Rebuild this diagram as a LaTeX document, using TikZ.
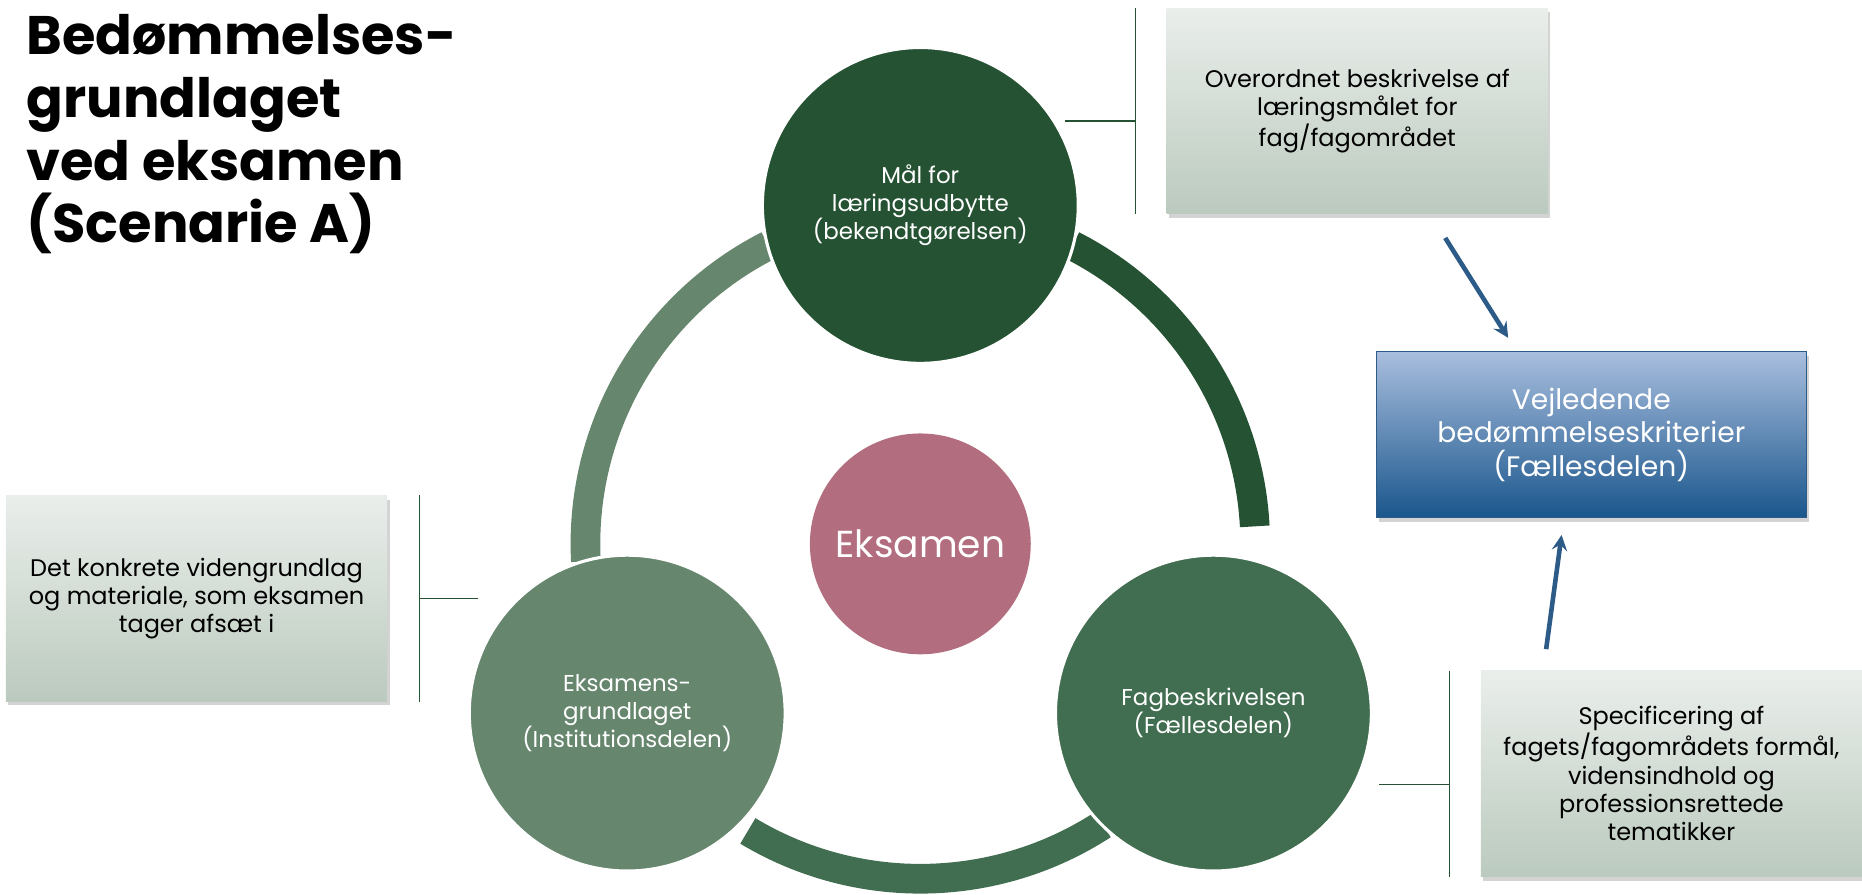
\documentclass[tikz,border=0pt]{standalone}
\usepackage{fontspec}
\setmainfont{Poppins}
\usetikzlibrary{calc,arrows,positioning,shadows}

\definecolor{darkgreen}{HTML}{255232}
\definecolor{midgreen}{HTML}{416E50}
\definecolor{lightgreen}{HTML}{66866E}
\definecolor{rosa}{HTML}{B26D7E}
\definecolor{boxtop}{HTML}{EAEEEB}
\definecolor{boxbottom}{HTML}{BBCABE}
\definecolor{bluetop}{HTML}{A9BEDE}
\definecolor{bluebottom}{HTML}{1A568C}
\definecolor{blueline}{HTML}{2C5B87}

\begin{document}
\begin{tikzpicture}
	\tikzstyle{stage} = [circle, minimum size=5.32cm, draw=white, line width=1.5pt, text=white, align=center, font=\fontsize{11}{13.5}\selectfont]
	\tikzstyle{note} = [rectangle, minimum width=6.42cm, minimum height=3.46cm, top color=boxtop, bottom color=boxbottom, align=center, font=\fontsize{11.5}{13.6}\selectfont, drop shadow={shadow xshift=0.04cm, shadow yshift=-0.07cm, opacity=0.35}]
	\tikzstyle{ringarc} = [line width=0.5cm]
	\tikzstyle{bracket} = [draw=darkgreen, line width=0.8pt]
	\useasboundingbox (0,0) rectangle (31.36,15.06);

	% title
	\node[anchor=north west, align=left, inner sep=0, font=\fontsize{26}{30}\selectfont\bfseries] (title) at (0.44,14.82) {Bedømmelses-\\grundlaget\\ved eksamen\\(Scenarie A)};

	% ring
	\coordinate (C) at (15.5,5.9);
	\draw[ringarc, draw=lightgreen] ($(C)+(183:5.64)$) arc[start angle=183, end angle=117, radius=5.64];
	\draw[ringarc, draw=darkgreen] ($(C)+(63:5.64)$) arc[start angle=63, end angle=3, radius=5.64];
	\draw[ringarc, draw=midgreen] ($(C)+(-57:5.64)$) arc[start angle=-57, end angle=-121, radius=5.64];

	\node[stage, fill=darkgreen] (maal) at ($(C)+(90:5.7)$) {Mål for\\læringsudbytte\\(bekendtgørelsen)};
	\node[stage, fill=midgreen] (fag) at ($(C)+(-30:5.7)$) {Fagbeskrivelsen\\(Fællesdelen)};
	\node[stage, fill=lightgreen] (grund) at ($(C)+(210:5.7)$) {Eksamens-\\grundlaget\\(Institutionsdelen)};
	\node[circle, minimum size=3.72cm, fill=rosa, text=white, font=\fontsize{18}{22}\selectfont] (eksamen) at (C) {Eksamen};

	% notes
	\node[note] (overbox) at (22.86,13.19) {Overordnet beskrivelse af\\læringsmålet for\\fag/fagområdet};
	\node[note] (videnbox) at (3.31,4.98) {Det konkrete videngrundlag\\og materiale, som eksamen\\tager afsæt i};
	\node[note] (specbox) at (28.15,2.03) {Specificering af\\fagets/fagområdets formål,\\vidensindhold og\\professionsrettede\\tematikker};
	\node[rectangle, minimum width=7.24cm, minimum height=2.8cm, top color=bluetop, bottom color=bluebottom, draw=blueline, line width=0.6pt, text=white, align=center, font=\fontsize{13.5}{16}\selectfont, drop shadow={shadow xshift=0.04cm, shadow yshift=-0.07cm, opacity=0.35}] (krit) at (26.8,7.74) {Vejledende\\bedømmelseskriterier\\(Fællesdelen)};

	% brackets
	\coordinate[left=0.52cm of overbox.north west] (overA);
	\coordinate[left=0.52cm of overbox.south west] (overB);
	\coordinate[below left=0.17cm and 1.7cm of overbox.west] (overC);
	\draw[bracket] (overA) -- (overB);
	\draw[bracket] (overC) -- (overC -| overA);

	\coordinate[right=0.54cm of videnbox.north east] (videnA);
	\coordinate[right=0.54cm of videnbox.south east] (videnB);
	\coordinate[right=1.52cm of videnbox.east] (videnC);
	\draw[bracket] (videnA) -- (videnB);
	\draw[bracket] (videnC) -- (videnC -| videnA);

	\coordinate[left=0.52cm of specbox.north west] (specA);
	\coordinate[left=0.52cm of specbox.south west] (specB);
	\coordinate[below left=0.18cm and 1.7cm of specbox.west] (specC);
	\draw[bracket] (specA) -- (specB);
	\draw[bracket] (specC) -- (specC -| specA);

	% arrows
	\draw[->,>=stealth,line width=2.2pt,draw=blueline] ([xshift=1.48cm,yshift=-0.4cm]overbox.south) -- ([xshift=-1.4cm,yshift=0.22cm]krit.north);
	\draw[->,>=stealth,line width=2.2pt,draw=blueline] ([xshift=-2.11cm,yshift=0.36cm]specbox.north) -- ([xshift=-0.5cm,yshift=-0.28cm]krit.south);
\end{tikzpicture}
\end{document}
